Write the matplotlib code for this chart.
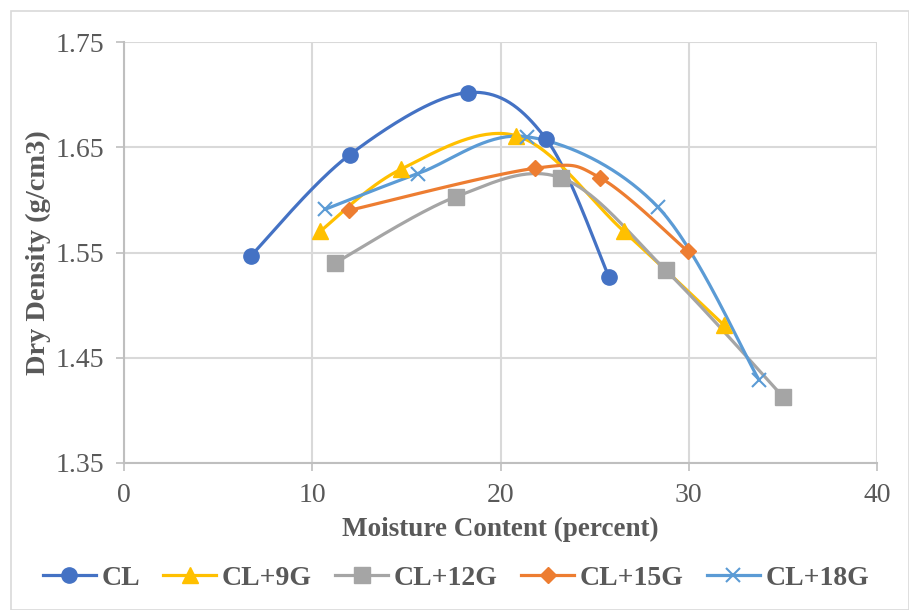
import numpy as np
import matplotlib
matplotlib.use("Agg")
import matplotlib.pyplot as plt
from matplotlib.lines import Line2D

# ---- data ----
series_names = ["CL", "CL+9G", "CL+12G", "CL+15G", "CL+18G"]
cl_x = [6.75, 12.0, 18.27, 22.42, 25.76]
cl_y = [1.547, 1.643, 1.702, 1.658, 1.527]
g9_x = [10.41, 14.7, 20.82, 26.56, 31.87]
g9_y = [1.570, 1.629, 1.661, 1.570, 1.481]
g12_x = [11.21, 17.64, 23.21, 28.79, 35.0]
g12_y = [1.540, 1.603, 1.621, 1.533, 1.413]
g15_x = [11.95, 21.83, 25.29, 29.96]
g15_y = [1.590, 1.630, 1.621, 1.551]
g18_x = [10.68, 15.62, 21.41, 28.37, 33.73]
g18_y = [1.591, 1.625, 1.660, 1.593, 1.429]

colors = ["#4472C4", "#FFC000", "#A5A5A5", "#ED7D31", "#5B9BD5"]
markers = ["o", "^", "s", "D", "x"]
msizes = [11, 11, 11, 8, 10]

xs = [cl_x, g9_x, g12_x, g15_x, g18_x]
ys = [cl_y, g9_y, g12_y, g15_y, g18_y]


def smooth(x, y, n=40):
    P = np.column_stack([x, y]).astype(float)
    out = [P[0]]
    m = len(P)
    for i in range(m - 1):
        p0 = P[i - 1] if i > 0 else P[i]
        p1 = P[i]
        p2 = P[i + 1]
        p3 = P[i + 2] if i + 2 < m else P[i + 1]
        c1 = p1 + (p2 - p0) / 6.0
        c2 = p2 - (p3 - p1) / 6.0
        t = np.linspace(0, 1, n)[1:, None]
        b = ((1 - t) ** 3) * p1 + 3 * ((1 - t) ** 2) * t * c1 + 3 * (1 - t) * t ** 2 * c2 + t ** 3 * p2
        out.extend(b)
    out = np.array(out)
    return out[:, 0], out[:, 1]


plt.rcParams['font.family'] = ['Liberation Serif', 'DejaVu Serif']
text_color = "#595959"
LW = 2.3

fig = plt.figure(figsize=(9.09, 6.10), dpi=100)
# outer border
fig.patches.append(plt.Rectangle((11 / 909, 0.0), 1 - 11 / 909, 1 - 11 / 610,
                                 transform=fig.transFigure, fill=False,
                                 edgecolor="#D9D9D9", linewidth=1.2))
ax = fig.add_axes([124 / 909, 1 - 463 / 610, (877 - 124) / 909, (463 - 42) / 610])

for i in range(5):
    sx, sy = smooth(xs[i], ys[i])
    ax.plot(sx, sy, color=colors[i], linewidth=LW, solid_capstyle="round", zorder=3)
    if markers[i] == "x":
        ax.plot(xs[i], ys[i], linestyle="none", marker="x", markersize=msizes[i],
                markeredgewidth=1.5, color=colors[i], zorder=4)
    else:
        ax.plot(xs[i], ys[i], linestyle="none", marker=markers[i], markersize=msizes[i],
                color=colors[i], markeredgecolor=colors[i], zorder=4)

ax.set_xlim(0, 40)
ax.set_ylim(1.35, 1.75)
ax.set_xticks([0, 10, 20, 30, 40])
ax.set_yticks([1.35, 1.45, 1.55, 1.65, 1.75])
ax.set_yticklabels(["1.35", "1.45", "1.55", "1.65", "1.75"])
ax.grid(True, color="#D9D9D9", linewidth=1.5)
ax.set_axisbelow(True)
for s in ["top", "right"]:
    ax.spines[s].set_visible(False)
for s in ["left", "bottom"]:
    ax.spines[s].set_color("#BFBFBF")
    ax.spines[s].set_linewidth(1.5)
ax.tick_params(axis="both", colors="#BFBFBF", labelcolor=text_color, labelsize=20,
               length=6, width=1.2)
ax.tick_params(axis="y", pad=8.5)
ax.tick_params(axis="x", pad=8.5)

ax.set_xlabel("Moisture Content (percent)", fontsize=19.5, fontweight="bold",
              color=text_color, labelpad=6)
ax.set_ylabel("Dry Density (g/cm3)", fontsize=20.5, fontweight="bold",
              color=text_color, labelpad=3)

handles = []
for i in range(5):
    if markers[i] == "x":
        h = Line2D([0], [0], color=colors[i], linewidth=LW, marker="x",
                   markersize=msizes[i], markeredgewidth=1.5)
    else:
        h = Line2D([0], [0], color=colors[i], linewidth=LW, marker=markers[i],
                   markersize=msizes[i], markeredgecolor=colors[i])
    handles.append(h)
leg = fig.legend(handles, series_names, loc="center", bbox_to_anchor=(456 / 909, 1 - 578 / 610),
                 ncol=5, frameon=False, handlelength=1.9, handletextpad=0.2,
                 columnspacing=0.85, prop={"weight": "bold", "size": 20})
for t in leg.get_texts():
    t.set_color(text_color)

fig.savefig("out.png", dpi=100)
